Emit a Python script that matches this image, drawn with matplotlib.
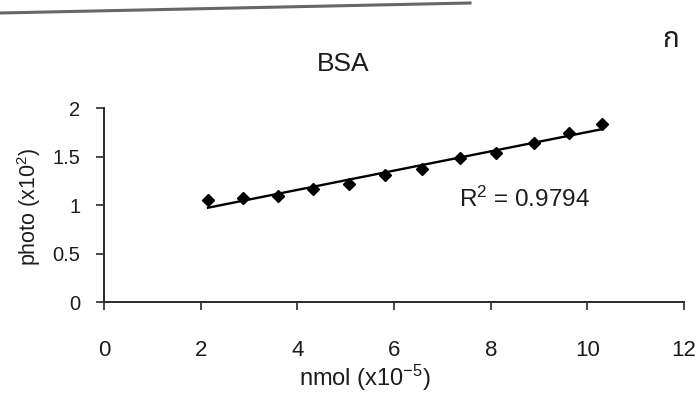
import matplotlib

matplotlib.use("Agg")
import matplotlib.pyplot as plt
import numpy as np
from matplotlib.lines import Line2D

plt.rcParams["font.family"] = ["Liberation Sans", "DejaVu Sans"]
plt.rcParams["mathtext.fontset"] = "custom"
plt.rcParams["mathtext.rm"] = "Liberation Sans"
plt.rcParams["mathtext.it"] = "Liberation Sans"

# BSA standard: amount (nmol x10^-5) vs photo signal (x10^2)
nmol = [2.15, 2.87, 3.59, 4.32, 5.06, 5.82, 6.58, 7.36, 8.11, 8.89, 9.61, 10.31]
photo = [1.05, 1.07, 1.09, 1.17, 1.22, 1.31, 1.37, 1.48, 1.54, 1.64, 1.74, 1.84]
r2_label = "0.9794"

x_ticks = [0, 2, 4, 6, 8, 10, 12]
y_ticks = [0, 0.5, 1, 1.5, 2]
y_ticklabels = ["0", "0.5", "1", "1.5", "2"]

ink = "#1c1c1c"

fig = plt.figure(figsize=(7, 4.05), dpi=100)
ax = fig.add_axes([0.1486, 0.2543, 0.8286, 0.479])

ax.plot(nmol, photo, linestyle="none", marker="D", markersize=6.5,
        color="black", zorder=3)

# linear trendline over the measured range
slope, intercept = np.polyfit(nmol, photo, 1)
xs = np.array([nmol[0], nmol[-1]])
ax.plot(xs, slope * xs + intercept, color="black", linewidth=1.7, zorder=2)

ax.set_xlim(0, 12)
ax.set_ylim(0, 2)
ax.set_xticks(x_ticks)
ax.set_yticks(y_ticks)
ax.set_yticklabels(y_ticklabels)
for side in ("top", "right"):
    ax.spines[side].set_visible(False)
for side in ("left", "bottom"):
    ax.spines[side].set_linewidth(1.4)
    ax.spines[side].set_color("#2a2a2a")
ax.tick_params(axis="both", direction="out", length=6, width=1.2,
               color="#2a2a2a", labelcolor=ink)
ax.tick_params(axis="x", pad=21, labelsize=16)
ax.tick_params(axis="y", pad=11, labelsize=14.5)

ax.set_ylabel("photo (x10$^2$)", fontsize=15.5, color=ink)
ax.yaxis.set_label_coords(-0.105, 0.49)
ax.set_xlabel("nmol (x10$^{-5}$)", fontsize=17, color=ink)
ax.xaxis.set_label_coords(0.45, -0.315)

ax.text(0.612, 0.53, "R$^2$ = " + r2_label, transform=ax.transAxes,
        fontsize=17.5, color=ink, va="center", ha="left")

fig.text(343 / 700, 1 - 64 / 405, "BSA", fontsize=19, color=ink,
         ha="center", va="center")
fig.text(671 / 700, 1 - 40 / 405, "ก", fontsize=20, color=ink,
         ha="center", va="center",
         family=["Noto Sans Thai", "Loma", "Garuda", "Norasi", "Tlwg Typo",
                 "Liberation Sans", "DejaVu Sans", "Noto Sans"])

# page edge line across the top
fig.add_artist(Line2D([0, 470 / 700], [1 - 13 / 405, 1 - 3 / 405],
                      transform=fig.transFigure, color="#666666",
                      linewidth=2.2))

fig.savefig("out.png", dpi=100)
